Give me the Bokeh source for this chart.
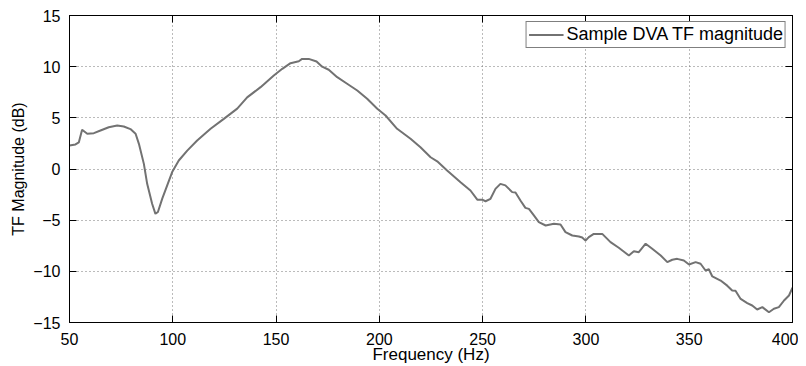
from bokeh.plotting import figure
from bokeh.models import LinearAxis, SingleIntervalTicker, CustomJSTickFormatter, Range1d
from bokeh.embed import file_html
from bokeh.resources import INLINE

# Frequency (Hz) and magnitude (dB)
freq = [50.0, 52.9, 54.5, 56.1, 58.6, 61.8, 65.0, 69.0, 73.1, 76.3, 79.5, 82.0, 83.6,
        86.0, 87.6, 90.0, 91.6, 92.8, 94.9, 97.3, 99.7, 102.9, 107.0, 111.8, 118.3,
        124.7, 131.2, 136.0, 142.5, 148.9, 153.0, 157.0, 161.0, 162.6, 165.8, 169.6,
        172.3, 175.5, 179.6, 184.4, 189.3, 194.1, 199.0, 203.0, 208.6, 215.1, 219.9,
        224.8, 228.0, 232.8, 239.3, 244.1, 247.4, 249.8, 251.4, 253.8, 256.2, 258.6,
        261.0, 264.3, 265.9, 268.3, 270.7, 272.4, 274.8, 277.2, 280.5, 284.5, 287.7,
        290.1, 293.4, 296.6, 298.2, 299.8, 301.4, 303.8, 307.9, 311.9, 315.9, 320.8,
        323.2, 325.6, 328.9, 332.1, 336.2, 339.4, 341.8, 344.2, 347.4, 349.9, 353.1,
        355.5, 357.9, 359.5, 361.2, 365.2, 368.4, 370.8, 372.4, 374.9, 378.1, 380.5,
        382.9, 385.4, 388.6, 391.0, 393.4, 395.9, 398.3, 400.0]
mag = [2.3, 2.4, 2.6, 3.83, 3.44, 3.5, 3.76, 4.08, 4.25, 4.15, 3.9, 3.44, 2.46,
       0.5, -1.45, -3.4, -4.38, -4.2, -2.9, -1.6, -0.3, 0.83, 1.8, 2.78, 3.93,
       4.9, 5.9, 7.0, 8.0, 9.14, 9.79, 10.34, 10.53, 10.76, 10.76, 10.5,
       10.0, 9.7, 8.97, 8.33, 7.67, 6.86, 5.88, 5.23, 3.93, 2.95, 2.13,
       1.15, 0.75, -0.15, -1.29, -2.1, -3.0, -3.0, -3.15, -2.91, -1.94, -1.45,
       -1.6, -2.26, -2.3, -3.08, -3.8, -3.9, -4.54, -5.2, -5.52, -5.36, -5.42,
       -6.17, -6.5, -6.6, -6.7, -7.0, -6.66, -6.34, -6.34, -7.15, -7.7, -8.45,
       -8.03, -8.13, -7.3, -7.8, -8.45, -9.1, -8.87, -8.78, -8.94, -9.33, -9.1,
       -9.26, -9.92, -9.8, -10.5, -10.9, -11.4, -11.87, -11.9, -12.7, -13.1, -13.34,
       -13.73, -13.5, -14.0, -13.66, -13.5, -12.85, -12.36, -11.6]

x_ticks_step = 50
y_ticks_step = 5
series_label = "Sample DVA TF magnitude"
x_title = "Frequency (Hz)"
y_title = "TF Magnitude (dB)"

FONT = "Liberation Sans"

p = figure(width=798, height=366, output_backend="svg", toolbar_location=None,
           x_range=Range1d(50, 400), y_range=Range1d(-15, 15),
           min_border_left=69, min_border_top=15, min_border_right=6, min_border_bottom=44,
           background_fill_color="white", border_fill_color="white")

p.outline_line_color = "black"
p.outline_line_width = 1
p.outline_line_alpha = 1

minus_fmt = CustomJSTickFormatter(code="return tick < 0 ? '\\u2212' + Math.abs(tick) : tick.toString();")
blank_fmt = CustomJSTickFormatter(code="return '';")

def style_axis(ax):
    ax.axis_line_color = "black"
    ax.major_tick_in = 7
    ax.major_tick_out = 0
    ax.major_tick_line_color = "black"
    ax.minor_tick_line_color = None
    ax.major_label_text_font = FONT
    ax.major_label_text_font_size = "16px"
    ax.major_label_text_color = "black"
    ax.axis_label_text_font = FONT
    ax.axis_label_text_font_style = "normal"
    ax.axis_label_text_color = "black"

p.xaxis.ticker = SingleIntervalTicker(interval=x_ticks_step)
p.yaxis.ticker = SingleIntervalTicker(interval=y_ticks_step)
p.yaxis.formatter = minus_fmt
style_axis(p.xaxis[0])
style_axis(p.yaxis[0])
p.xaxis.axis_label = x_title
p.yaxis.axis_label = y_title
p.xaxis.axis_label_text_font_size = "17px"
p.yaxis.axis_label_text_font_size = "16px"
p.xaxis.major_label_standoff = 6
p.xaxis.axis_label_standoff = -3
p.yaxis.major_label_standoff = 5
p.yaxis.axis_label_standoff = 3

top_ax = LinearAxis(ticker=SingleIntervalTicker(interval=x_ticks_step), formatter=blank_fmt)
style_axis(top_ax)
top_ax.major_label_standoff = 0
p.add_layout(top_ax, "above")
right_ax = LinearAxis(ticker=SingleIntervalTicker(interval=y_ticks_step), formatter=blank_fmt)
style_axis(right_ax)
right_ax.major_label_standoff = 0
p.add_layout(right_ax, "right")

p.xgrid.ticker = SingleIntervalTicker(interval=x_ticks_step)
p.ygrid.ticker = SingleIntervalTicker(interval=y_ticks_step)
for g in (p.xgrid[0], p.ygrid[0]):
    g.grid_line_color = "#777777"
    g.grid_line_dash = "1 3"
    g.grid_line_width = 1

p.line(freq, mag, line_color="#727272", line_width=2, legend_label=series_label)

lg = p.legend[0]
lg.location = "top_right"
lg.margin = 6
lg.padding = 2
lg.spacing = 0
lg.glyph_width = 35
lg.glyph_height = 17
lg.label_height = 17
lg.label_standoff = 3
lg.label_text_font = FONT
lg.label_text_font_size = "18px"
lg.label_text_color = "black"
lg.border_line_color = "black"
lg.border_line_width = 1
lg.background_fill_color = "white"
lg.background_fill_alpha = 1

open("out.html", "w", encoding="utf-8").write(file_html(p, INLINE))
